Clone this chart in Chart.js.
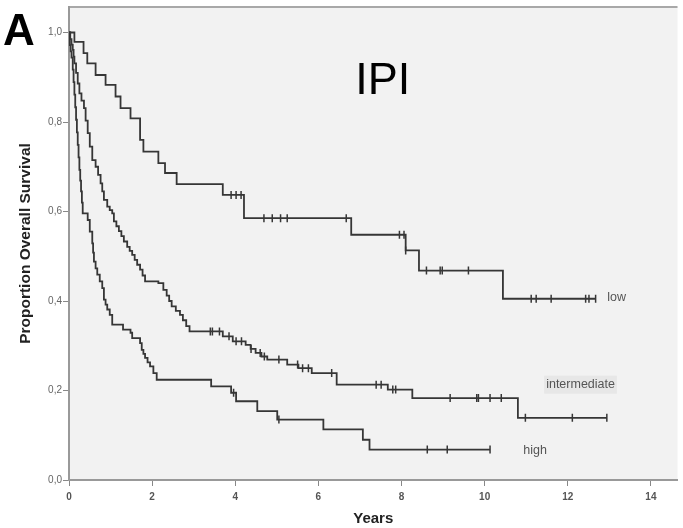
<!DOCTYPE html>
<html>
<head>
<meta charset="utf-8">
<script src="https://cdn.jsdelivr.net/npm/chart.js@4/dist/chart.umd.min.js"></script>
<style>
  html, body { margin: 0; padding: 0; background: #fff; }
  #wrap { width: 683px; height: 528px; position: relative; }
</style>
</head>
<body>
<div id="wrap"><canvas id="km"></canvas></div>
<script>
// x axis ticks (years) and y axis ticks (proportion)
var xTicks = [0, 2, 4, 6, 8, 10, 12, 14];
var yTicks = [0, 0.2, 0.4, 0.6, 0.8, 1.0];

// IPI low: event times / survival after the event
var lowTimes = [0, 0.13, 0.35, 0.44, 0.64, 0.88, 1.12, 1.24, 1.48, 1.71, 1.79, 2.15, 2.31, 2.59, 3.70, 4.21, 6.79, 8.10, 8.42, 10.44, 12.67];
var lowSurv  = [1.0, 0.979, 0.954, 0.931, 0.905, 0.883, 0.857, 0.831, 0.808, 0.760, 0.734, 0.708, 0.686, 0.661, 0.637, 0.585, 0.548, 0.513, 0.468, 0.405, 0.405];
var lowCensored = [3.90, 4.02, 4.14, 4.69, 4.89, 5.09, 5.25, 6.67, 7.95, 8.06, 8.10, 8.60, 8.93, 8.98, 9.61, 11.12, 11.24, 11.60, 12.43, 12.51, 12.67];

// IPI intermediate
var midTimes = [0, 0.03, 0.06, 0.09, 0.11, 0.13, 0.17, 0.21, 0.25, 0.30, 0.36, 0.40, 0.45, 0.50, 0.56, 0.64, 0.70, 0.76, 0.80, 0.84,
  0.92, 0.98, 1.04, 1.08, 1.14, 1.20, 1.26, 1.32, 1.40, 1.46, 1.52, 1.58, 1.64, 1.71, 1.77, 1.83, 2.15, 2.27, 2.35, 2.41,
  2.47, 2.57, 2.67, 2.74, 2.82, 2.90, 3.70, 3.94, 4.25, 4.37, 4.49, 4.63, 4.77, 5.25, 5.52, 5.84, 6.44, 7.67, 8.26, 10.80, 12.94];
var midSurv = [1.0, 0.985, 0.973, 0.961, 0.946, 0.931, 0.910, 0.886, 0.864, 0.848, 0.831, 0.803, 0.775, 0.745, 0.715, 0.700, 0.682, 0.663, 0.645, 0.626,
  0.611, 0.603, 0.596, 0.578, 0.567, 0.556, 0.545, 0.533, 0.521, 0.512, 0.503, 0.492, 0.481, 0.470, 0.457, 0.444, 0.440, 0.425, 0.412, 0.400,
  0.388, 0.378, 0.369, 0.357, 0.344, 0.332, 0.321, 0.310, 0.302, 0.293, 0.284, 0.276, 0.269, 0.258, 0.250, 0.239, 0.213, 0.202, 0.183, 0.139, 0.139];
var midCensored = [3.40, 3.45, 3.62, 3.85, 4.02, 4.15, 4.38, 4.60, 4.70, 5.05, 5.50, 5.62, 5.76, 6.32, 7.39, 7.51, 7.79, 7.86,
  9.17, 9.81, 9.85, 10.13, 10.40, 10.98, 12.11, 12.94];

// IPI high
var highTimes = [0, 0.02, 0.04, 0.06, 0.09, 0.11, 0.13, 0.15, 0.17, 0.19, 0.21, 0.23, 0.25, 0.27, 0.29, 0.31, 0.33, 0.45, 0.50, 0.56,
  0.58, 0.60, 0.64, 0.68, 0.74, 0.80, 0.84, 0.88, 0.92, 0.98, 1.04, 1.30, 1.48, 1.52, 1.71, 1.75, 1.79, 1.83, 1.89, 1.95,
  2.03, 2.11, 3.42, 3.90, 4.02, 4.53, 5.01, 6.12, 7.07, 7.23, 10.13];
var highSurv = [1.0, 0.972, 0.958, 0.944, 0.917, 0.889, 0.861, 0.833, 0.805, 0.777, 0.749, 0.721, 0.693, 0.669, 0.645, 0.620, 0.596, 0.581, 0.555, 0.529,
  0.508, 0.488, 0.473, 0.459, 0.444, 0.429, 0.403, 0.392, 0.381, 0.369, 0.347, 0.336, 0.329, 0.317, 0.306, 0.291, 0.282, 0.273, 0.263, 0.254,
  0.239, 0.224, 0.209, 0.195, 0.176, 0.154, 0.135, 0.113, 0.090, 0.068, 0.068];
var highCensored = [3.96, 5.05, 8.62, 9.10, 10.13];

// group labels next to the curves
var groupNames = ['low', 'intermediate', 'high'];
var groupLabelX = [12.95, 11.48, 10.93];
var groupLabelY = [0.407, 0.213, 0.066];
var groupLabelBox = [false, true, false];

var lineColor = '#363636';
var fontFamily = '"Liberation Sans", Arial, sans-serif';

function toPoints(times, surv) {
  return times.map(function (t, i) { return { x: t, y: surv[i] }; });
}
// survival level at time t (step function)
function survAt(times, surv, t) {
  var s = surv[0];
  for (var i = 0; i < times.length; i++) {
    if (times[i] <= t + 1e-9) s = surv[i];
  }
  return s;
}
function censorPoints(times, surv, cens) {
  return cens.map(function (t) { return { x: t, y: survAt(times, surv, t) }; });
}

function curve(times, surv) {
  return {
    type: 'line',
    data: toPoints(times, surv),
    stepped: 'before',
    borderColor: lineColor,
    borderWidth: 1.8,
    pointRadius: 0,
    fill: false
  };
}
function censors(times, surv, cens) {
  return {
    type: 'scatter',
    data: censorPoints(times, surv, cens),
    pointStyle: 'line',
    rotation: 90,
    radius: 4,
    borderColor: lineColor,
    borderWidth: 1.5,
    showLine: false
  };
}

// grey plot panel + text
var panelPlugin = {
  id: 'panel',
  beforeDraw: function (chart) {
    var ctx = chart.ctx, a = chart.chartArea;
    ctx.save();
    ctx.fillStyle = '#f2f2f2';
    ctx.fillRect(a.left, a.top, a.right - a.left, a.bottom - a.top);
    ctx.strokeStyle = '#a8a8a8';
    ctx.lineWidth = 2;
    ctx.beginPath();
    ctx.moveTo(a.left, a.top);
    ctx.lineTo(a.right, a.top);
    ctx.stroke();
    ctx.restore();
  },
  afterDraw: function (chart) {
    var ctx = chart.ctx;
    var xs = chart.scales.x, ys = chart.scales.y;
    ctx.save();
    // panel letter
    ctx.fillStyle = '#000';
    ctx.font = 'bold 44px ' + fontFamily;
    ctx.textBaseline = 'alphabetic';
    ctx.textAlign = 'left';
    ctx.fillText('A', 3, 45);
    // IPI title
    ctx.font = '45px ' + fontFamily;
    ctx.textAlign = 'center';
    ctx.fillText('IPI', xs.getPixelForValue(7.55), ys.getPixelForValue(0.862));
    // group labels
    ctx.font = '12.5px ' + fontFamily;
    ctx.textAlign = 'left';
    ctx.textBaseline = 'middle';
    for (var i = 0; i < groupNames.length; i++) {
      var px = xs.getPixelForValue(groupLabelX[i]);
      var py = ys.getPixelForValue(groupLabelY[i]);
      var w = ctx.measureText(groupNames[i]).width;
      if (groupLabelBox[i]) {
        ctx.fillStyle = '#e7e7e7';
        ctx.fillRect(px - 2, py - 9, w + 4, 18);
      }
      ctx.fillStyle = '#555';
      ctx.fillText(groupNames[i], px, py);
    }
    ctx.restore();
  }
};

new Chart(document.getElementById('km'), {
  type: 'scatter',
  data: {
    datasets: [
      curve(lowTimes, lowSurv),
      curve(midTimes, midSurv),
      curve(highTimes, highSurv),
      censors(lowTimes, lowSurv, lowCensored),
      censors(midTimes, midSurv, midCensored),
      censors(highTimes, highSurv, highCensored)
    ]
  },
  options: {
    responsive: true,
    maintainAspectRatio: false,
    animation: false,
    layout: { padding: { top: 7, right: 0, left: 0, bottom: 0 } },
    plugins: { legend: { display: false }, tooltip: { enabled: false } },
    scales: {
      x: {
        type: 'linear',
        min: 0,
        max: 14.64,
        afterBuildTicks: function (s) { s.ticks = xTicks.map(function (v) { return { value: v }; }); },
        afterFit: function (s) { s.height = 48; },
        grid: { drawOnChartArea: false, drawTicks: true, tickLength: 6, color: '#888' },
        border: { display: true, color: '#999', width: 2 },
        ticks: { color: '#555', font: { size: 10, family: fontFamily, weight: 'bold' }, padding: 5, maxRotation: 0 },
        title: { display: true, text: 'Years', color: '#222', font: { size: 15, weight: 'bold', family: fontFamily }, padding: { top: 0, bottom: 0 } }
      },
      y: {
        type: 'linear',
        min: 0,
        max: 1.057,
        afterBuildTicks: function (s) { s.ticks = yTicks.map(function (v) { return { value: v }; }); },
        afterFit: function (s) { s.width = 69; },
        grid: { drawOnChartArea: false, drawTicks: true, tickLength: 6, color: '#888' },
        border: { display: true, color: '#999', width: 2 },
        ticks: {
          color: '#666',
          font: { size: 10, family: fontFamily },
          padding: 1,
          callback: function (v) { return v.toFixed(1).replace('.', ','); }
        },
        title: { display: true, text: 'Proportion Overall Survival', color: '#222', font: { size: 15.5, weight: 'bold', family: fontFamily }, padding: { top: 16, bottom: 0 } }
      }
    }
  },
  plugins: [panelPlugin]
});
</script>
</body>
</html>
